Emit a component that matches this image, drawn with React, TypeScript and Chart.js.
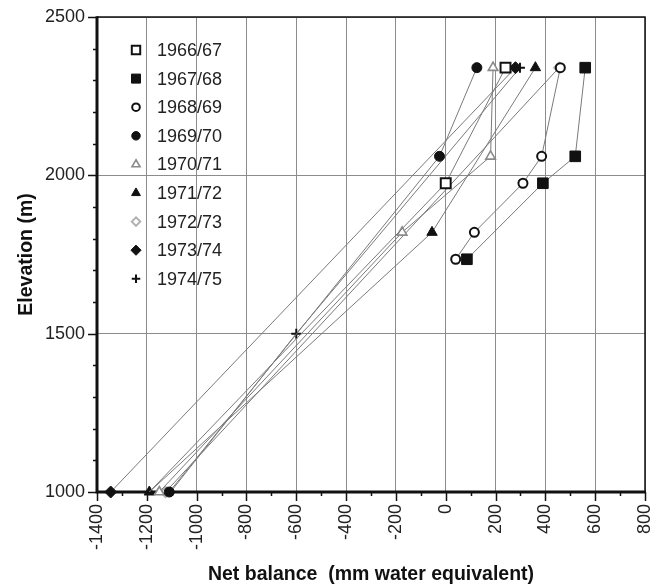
import React, { useEffect, useRef } from 'react';
import { Chart, registerables } from 'chart.js';
import { drawPoint } from 'chart.js/helpers';

Chart.register(...registerables);

// ---------- data ----------
const seriesLabels = ['1966/67', '1967/68', '1968/69', '1969/70', '1970/71', '1971/72', '1972/73', '1973/74', '1974/75'];

const balance6667 = [240, 0, -1190];
const elev6667 = [2340, 1975, 1000];

const balance6768 = [560, 520, 390, 85];
const elev6768 = [2340, 2060, 1975, 1735];

const balance6869 = [460, 385, 310, 115, 40];
const elev6869 = [2340, 2060, 1975, 1820, 1735];

const balance6970 = [125, -25, -1110];
const elev6970 = [2340, 2060, 1000];

const balance7071 = [190, 180, -175, -1150];
const elev7071 = [2340, 2060, 1820, 1000];

const balance7172 = [360, -55, -1190];
const elev7172 = [2340, 1820, 1000];

const balance7273 = [455, -1125];
const elev7273 = [2340, 1000];

const balance7374 = [280, -1345];
const elev7374 = [2340, 1000];

const balance7475 = [298, -600, -1105];
const elev7475 = [2340, 1500, 1000];

const xTickMin = -1400;
const xTickMax = 800;
const yTickMin = 1000;
const yTickMax = 2500;

const balances = [balance6667, balance6768, balance6869, balance6970, balance7071, balance7172, balance7273, balance7374, balance7475];
const elevations = [elev6667, elev6768, elev6869, elev6970, elev7071, elev7172, elev7273, elev7374, elev7475];

// ---------- styles ----------
const markerStyles = [
  { pointStyle: 'rect', radius: 7, bg: '#ffffff', border: '#111111', bw: 2 },
  { pointStyle: 'rect', radius: 7.5, bg: '#111111', border: '#111111', bw: 1 },
  { pointStyle: 'circle', radius: 4.5, bg: '#ffffff', border: '#111111', bw: 2 },
  { pointStyle: 'circle', radius: 5, bg: '#111111', border: '#111111', bw: 1 },
  { pointStyle: 'triangle', radius: 5.5, bg: '#ffffff', border: '#8a8a8a', bw: 1.6 },
  { pointStyle: 'triangle', radius: 6, bg: '#111111', border: '#111111', bw: 1 },
  { pointStyle: 'rectRot', radius: 5, bg: '#ffffff', border: '#b0b0b0', bw: 2 },
  { pointStyle: 'rectRot', radius: 6, bg: '#111111', border: '#111111', bw: 1 },
  { pointStyle: 'cross', radius: 5, bg: '#111111', border: '#111111', bw: 2 },
];

const FONT = '"Liberation Sans", Arial, Helvetica, sans-serif';

const framePlugin = {
  id: 'frameTicks',
  beforeDatasetsDraw(chart: any) {
    const { ctx, chartArea } = chart;
    const xs = chart.scales.x;
    const ys = chart.scales.y;
    const { left, right, top, bottom } = chartArea;
    ctx.save();
    ctx.strokeStyle = '#111';
    ctx.lineWidth = 1.5;
    for (let v = yTickMin; v <= yTickMax + 1e-6; v += 100) {
      const py = Math.round(ys.getPixelForValue(v)) + 0.5;
      const len = v % 500 === 0 ? 9 : 4;
      ctx.beginPath();
      ctx.moveTo(left - len, py);
      ctx.lineTo(left, py);
      ctx.stroke();
    }
    for (let v = xTickMin; v <= xTickMax + 1e-6; v += 100) {
      const px = Math.round(xs.getPixelForValue(v)) + 0.5;
      const len = Math.abs(v % 200) < 1e-6 ? 9 : 4;
      ctx.beginPath();
      ctx.moveTo(px, bottom);
      ctx.lineTo(px, bottom + len);
      ctx.stroke();
    }
    ctx.lineWidth = 1.5;
    ctx.beginPath();
    ctx.moveTo(left, top);
    ctx.lineTo(right, top);
    ctx.lineTo(right, bottom);
    ctx.stroke();
    ctx.lineWidth = 3;
    ctx.beginPath();
    ctx.moveTo(left, top - 0.75);
    ctx.lineTo(left, bottom);
    ctx.lineTo(right + 0.75, bottom);
    ctx.stroke();
    ctx.restore();
  },
};

const legendPlugin = {
  id: 'insideLegend',
  afterDatasetsDraw(chart: any) {
    const { ctx } = chart;
    ctx.save();
    seriesLabels.forEach((label, i) => {
      const m = markerStyles[i];
      const y = 50 + i * 28.6;
      ctx.fillStyle = m.bg;
      ctx.strokeStyle = m.border;
      ctx.lineWidth = m.bw;
      drawPoint(ctx, { pointStyle: m.pointStyle as any, radius: m.radius * 0.85, borderWidth: m.bw, rotation: 0 }, 136, y);
      ctx.fillStyle = '#222';
      ctx.font = `18px ${FONT}`;
      ctx.textAlign = 'left';
      ctx.textBaseline = 'middle';
      ctx.fillText(label, 157, y + 1);
    });
    ctx.restore();
  },
};

export default function App() {
  const canvasRef = useRef<HTMLCanvasElement | null>(null);

  useEffect(() => {
    if (!canvasRef.current) return;
    const datasets = seriesLabels.map((label, i) => {
      const m = markerStyles[i];
      // the lowest 1966/67 point sits under other markers in the reference
      const radii = balances[i].map((_, j) => (i === 0 && j === balances[i].length - 1 ? 0 : m.radius));
      return {
        label,
        data: balances[i].map((b, j) => ({ x: b, y: elevations[i][j] })),
        showLine: true,
        borderColor: '#7a7a7a',
        borderWidth: 1,
        pointStyle: m.pointStyle,
        pointRadius: radii,
        pointHoverRadius: radii,
        pointBackgroundColor: m.bg,
        pointBorderColor: m.border,
        pointBorderWidth: m.bw,
        clip: false,
      };
    });

    const chart = new Chart(canvasRef.current, {
      type: 'scatter',
      data: { datasets: datasets as any },
      options: {
        animation: false,
        responsive: false,
        maintainAspectRatio: false,
        layout: { padding: { left: 0, right: 10, top: 17, bottom: 0 } },
        plugins: {
          legend: { display: false },
          tooltip: { enabled: false },
        },
        scales: {
          x: {
            type: 'linear',
            min: xTickMin,
            max: xTickMax,
            afterFit: (s: any) => { s.height = 94; s.paddingLeft = 0; s.paddingRight = 0; },
            ticks: {
              stepSize: 200,
              autoSkip: false,
              minRotation: 90,
              maxRotation: 90,
              padding: 12,
              color: '#222',
              font: { family: FONT, size: 18 },
              callback: (v: any) => String(v),
            },
            grid: { color: '#8c8c8c', lineWidth: 1, drawTicks: false },
            border: { display: false },
            title: {
              display: true,
              text: 'Net balance  (mm water equivalent)',
              color: '#111',
              font: { family: FONT, size: 19.5, weight: 'bold' },
              padding: { top: 2, bottom: 0 },
            },
          },
          y: {
            type: 'linear',
            min: yTickMin,
            max: yTickMax,
            afterFit: (s: any) => { s.width = 97; s.paddingTop = 0; s.paddingBottom = 0; },
            ticks: {
              stepSize: 500,
              padding: 12,
              color: '#222',
              font: { family: FONT, size: 18 },
              callback: (v: any) => String(v),
            },
            grid: { color: '#8c8c8c', lineWidth: 1, drawTicks: false },
            border: { display: false },
            title: {
              display: true,
              text: 'Elevation (m)',
              color: '#111',
              font: { family: FONT, size: 19.5, weight: 'bold' },
              padding: { top: 15, bottom: 0 },
            },
          },
        },
      },
      plugins: [framePlugin, legendPlugin],
    });
    return () => chart.destroy();
  }, []);

  return (
    <div style={{ position: 'fixed', left: 0, top: 0, width: 655, height: 586, background: '#fff' }}>
      <canvas ref={canvasRef} width={655} height={586} style={{ display: 'block' }} />
    </div>
  );
}
